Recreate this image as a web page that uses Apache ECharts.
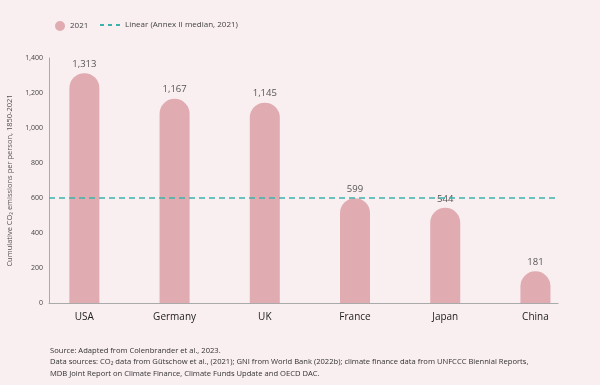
<!DOCTYPE html>
<html><head><meta charset="utf-8">
<script src="https://cdn.jsdelivr.net/npm/echarts@6/dist/echarts.min.js"></script>
<style>html,body{margin:0;padding:0;background:#f9eef0;}#c{width:600px;height:385px;}</style>
</head><body><div id="c"></div>
<script>
const categories = ['USA','Germany','UK','France','Japan','China'];
const values2021 = [1313,1167,1145,599,544,181];
const annexMedian = 600;

const chart = echarts.init(document.getElementById('c'));
const FONT = '"Open Sans",sans-serif';
const TEAL = '#3bb3ac';
chart.setOption({
  backgroundColor:'#f9eef0',
  textStyle:{fontFamily:FONT},
  legend:[
    {top:16, left:50, itemWidth:10, itemHeight:10, itemGap:5,
     textStyle:{fontSize:8,color:'#444',fontFamily:FONT},
     data:[{name:'2021',icon:'circle',itemStyle:{color:'#e0abb1'}}]},
    {top:16, left:94, itemWidth:20, itemHeight:10,
     textStyle:{fontSize:8,color:'#444',fontFamily:FONT},
     data:[{name:'Linear (Annex II median, 2021)',itemStyle:{opacity:0}}]}
  ],
  grid:{left:49,right:42,top:58,bottom:82,containLabel:false,outerBoundsMode:'none'},
  xAxis:{
    type:'value', min:-0.392, max:5.25,
    splitLine:{show:false},
    axisLine:{show:true,onZero:false,lineStyle:{color:'#aaa'}},
    axisTick:{show:false},
    axisLabel:{customValues:[0,1,2,3,4,5],formatter:v=>categories[Math.round(v)]||'',fontSize:10,color:'#222',margin:9,fontFamily:FONT}
  },
  yAxis:{
    type:'value', min:0, max:1400, interval:200,
    name:'Cumulative CO\u2082 emissions per person, 1850-2021',
    nameLocation:'middle', nameGap:33, nameRotate:90,
    nameTextStyle:{fontSize:7.5,color:'#555',fontFamily:FONT},
    splitLine:{show:false},
    axisLine:{show:true,onZero:false,lineStyle:{color:'#aaa'}},
    axisTick:{show:false},
    axisLabel:{fontSize:7,color:'#444',margin:6,formatter:v=>v.toLocaleString('en-US'),fontFamily:FONT}
  },
  series:[
    {name:'2021',type:'bar',barWidth:30,
     data:values2021.map((v,i)=>[i,v]),
     itemStyle:{color:'#e0abb1',borderRadius:[15,15,0,0]},
     label:{show:true,position:'top',distance:4,fontSize:9.5,color:'#555',formatter:p=>p.value[1].toLocaleString('en-US'),fontFamily:FONT}},
    {name:'Linear (Annex II median, 2021)',type:'line',data:[],
     itemStyle:{color:TEAL},lineStyle:{color:TEAL,type:[4,4],width:1.5},symbol:'none',
     markLine:{silent:true,symbol:'none',label:{show:false},
       lineStyle:{color:TEAL,type:[6,4],width:1.5},
       data:[{yAxis:annexMedian}]}}
  ],
  graphic:[
    {type:'text',left:50,top:345,style:{text:'Source: Adapted from Colenbrander et al., 2023.\nData sources: CO\u2082 data from Gütschow et al., (2021); GNI from World Bank (2022b); climate finance data from UNFCCC Biennial Reports,\nMDB Joint Report on Climate Finance, Climate Funds Update and OECD DAC.',fontSize:7.6,lineHeight:11.5,fill:'#333',fontFamily:FONT}}
  ]
});
</script></body></html>
